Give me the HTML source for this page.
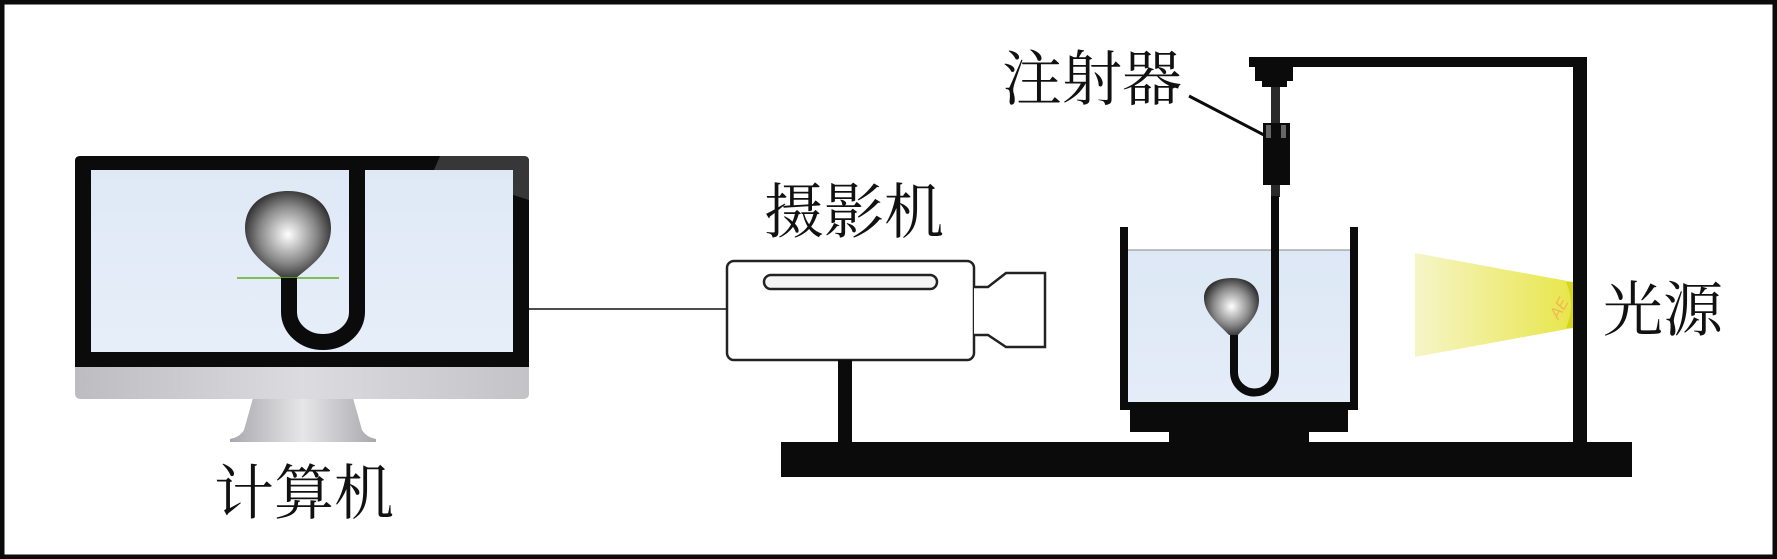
<!DOCTYPE html>
<html><head><meta charset="utf-8"><style>
html,body{margin:0;padding:0;background:#fff}
svg{display:block}
text{font-family:"Liberation Serif","Noto Serif CJK SC",serif;font-size:60px;fill:#111}
</style></head><body>
<svg width="1777" height="559" viewBox="0 0 1777 559" xmlns="http://www.w3.org/2000/svg">
<defs>
<radialGradient id="bulb" cx="0.5" cy="0.5" r="0.6">
<stop offset="0" stop-color="#fff"/><stop offset="0.55" stop-color="#888"/><stop offset="1" stop-color="#111"/>
</radialGradient>
<linearGradient id="scr" x1="0" y1="0" x2="0" y2="1"><stop offset="0" stop-color="#dfe9f6"/><stop offset="1" stop-color="#e6eef9"/></linearGradient>
<linearGradient id="chin" x1="0" y1="0" x2="1" y2="0"><stop offset="0" stop-color="#bdbcc0"/><stop offset="0.5" stop-color="#dcdbdf"/><stop offset="1" stop-color="#c4c3c7"/></linearGradient>
<linearGradient id="stand" x1="0" y1="0" x2="1" y2="0"><stop offset="0" stop-color="#a9a8ad"/><stop offset="0.5" stop-color="#e6e6e8"/><stop offset="1" stop-color="#a9a8ad"/></linearGradient>
<linearGradient id="light" x1="1" y1="0" x2="0" y2="0"><stop offset="0" stop-color="#e8e64a"/><stop offset="1" stop-color="#f6f5c8"/></linearGradient>
<linearGradient id="water" x1="0" y1="0" x2="0" y2="1"><stop offset="0" stop-color="#dde8f6"/><stop offset="1" stop-color="#e4ecf8"/></linearGradient>
</defs>
<rect x="2" y="2" width="1773" height="555" fill="#fff" stroke="#0a0a0a" stroke-width="5"/>

<!-- monitor -->
<path d="M253 398 L353 398 L362 430 Q366 437 376 439 L376 442 L230 442 L230 439 Q240 437 244 430 Z" fill="url(#stand)"/>
<rect x="75" y="156" width="454" height="243" rx="5" fill="url(#chin)"/>
<path d="M80 156 H524 Q529 156 529 161 V367 H75 V161 Q75 156 80 156 Z" fill="#0b0b0c"/>
<path d="M440 156 H524 Q529 156 529 161 V200 L434 170 Z" fill="#4a4a4c" opacity="0.7"/>
<rect x="91" y="170" width="422" height="182" fill="url(#scr)"/>
<path d="M245 228 C245 205 263 191 288 191 C313 191 331 205 331 228 C331 252 313 264 296 278 L282 278 C265 264 245 252 245 228 Z" fill="url(#bulb)"/>
<line x1="237" y1="278" x2="339" y2="278" stroke="#5fb020" stroke-width="1.5"/>
<path d="M289 278 V312 A34 30 0 0 0 357 312 V170" fill="none" stroke="#0b0b0c" stroke-width="16"/>
<text x="214" y="514">计算机</text>

<!-- connection -->
<line x1="529" y1="309" x2="727" y2="309" stroke="#111" stroke-width="1.5"/>

<!-- camera -->
<text x="764" y="233">摄影机</text>
<rect x="727" y="261" width="247" height="99" rx="7" fill="#fff" stroke="#222" stroke-width="2.5"/>
<rect x="764" y="275" width="173" height="14" rx="7" fill="#f4f4f4" stroke="#222" stroke-width="2.5"/>
<path d="M974 287 L988 287 L1006 273 L1045 273 L1045 347 L1006 347 L988 335 L974 335" fill="#fff" stroke="#222" stroke-width="2.5"/>
<rect x="838" y="360" width="14" height="82" fill="#0b0b0c"/>

<!-- base -->
<rect x="781" y="442" width="851" height="35" fill="#0b0b0c"/>

<!-- frame -->
<rect x="1249" y="57" width="338" height="10" fill="#0b0b0c"/>
<rect x="1573" y="57" width="14" height="386" fill="#0b0b0c"/>
<rect x="1255" y="63" width="38" height="18" fill="#0b0b0c"/>
<rect x="1262" y="81" width="25" height="6" fill="#0b0b0c"/>

<!-- syringe -->
<rect x="1271" y="87" width="9" height="36" fill="#2a2a2a"/>
<rect x="1263" y="123" width="27" height="62" fill="#0b0b0c"/>
<rect x="1266" y="125" width="5" height="13" fill="#666"/>
<rect x="1281" y="125" width="5" height="13" fill="#666"/>
<rect x="1271" y="185" width="9" height="12" fill="#2a2a2a"/>
<line x1="1189" y1="96" x2="1264" y2="135" stroke="#0b0b0c" stroke-width="3"/>
<text x="1002" y="100">注射器</text>

<!-- beaker -->
<rect x="1128" y="250" width="222" height="154" fill="url(#water)"/>
<line x1="1128" y1="250" x2="1350" y2="250" stroke="#888" stroke-width="1"/>
<path d="M1124 227 V406 H1354 V227" fill="none" stroke="#0b0b0c" stroke-width="8"/>
<rect x="1130" y="410" width="218" height="22" fill="#0b0b0c"/>
<rect x="1169" y="430" width="140" height="13" fill="#0b0b0c"/>
<path d="M1204 298 C1204 285 1216 278 1232 278 C1248 278 1259 286 1259 300 C1259 316 1246 326 1238 335 L1229 335 C1220 325 1204 314 1204 298 Z" fill="url(#bulb)"/>
<path d="M1234 335 V372 A20 20 0 0 0 1275 372 V196" fill="none" stroke="#0b0b0c" stroke-width="8"/>

<!-- light -->
<path d="M1415 253 L1573 282 L1573 328 L1415 357 Z" fill="url(#light)"/>
<path d="M1566 282 Q1576 305 1566 328 L1573 328 L1573 282 Z" fill="#d8d520"/>
<text x="1548" y="318" style="font-family:'Liberation Sans',sans-serif;font-size:16px;font-style:italic;fill:#f0b850" transform="rotate(-60 1555 310)">AE</text>
<text x="1603" y="331">光源</text>
</svg>
</body></html>
